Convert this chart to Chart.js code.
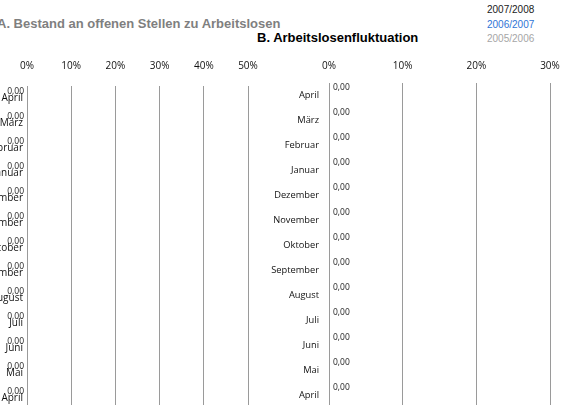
<!DOCTYPE html>
<html>
<head>
<meta charset="utf-8">
<script src="https://cdn.jsdelivr.net/npm/chart.js@4"></script>
<style>
  html, body { margin: 0; padding: 0; width: 563px; height: 405px; overflow: hidden; background: #fff; }
  .wrap { position: absolute; top: 0; height: 412px; }
  #wrapA { left: -60px; width: 318px; }
  #wrapB { left: 250px; width: 310px; }
  .title { position: absolute; font: bold 13px "Liberation Sans", Arial, sans-serif; line-height: 15px; white-space: nowrap; }
  #titleA { left: -3px; top: 16px; color: #7f7f7f; }
  #titleB { left: 257px; top: 30px; color: #000; }
  #legend { position: absolute; left: 487px; top: 3px; font: 10px "Liberation Sans", Arial, sans-serif; line-height: 14.5px; }
</style>
</head>
<body>
<div class="title" id="titleA">A. Bestand an offenen Stellen zu Arbeitslosen</div>
<div class="title" id="titleB">B. Arbeitslosenfluktuation</div>
<div id="legend"></div>
<div class="wrap" id="wrapA"><canvas id="chartA"></canvas></div>
<div class="wrap" id="wrapB"><canvas id="chartB"></canvas></div>
<script>
const months = ['April', 'März', 'Februar', 'Januar', 'Dezember', 'November', 'Oktober',
  'September', 'August', 'Juli', 'Juni', 'Mai', 'April'];
const seriesNames = ['2007/2008', '2006/2007', '2005/2006'];
const seriesColors = ['#1a1a1a', '#2f75d6', '#a6a6a6'];

// Bestand an offenen Stellen zu Arbeitslosen (Anteil)
const bestand0708 = [0, 0, 0, 0, 0, 0, 0, 0, 0, 0, 0, 0, 0];
const bestand0607 = [0, 0, 0, 0, 0, 0, 0, 0, 0, 0, 0, 0, 0];
const bestand0506 = [0, 0, 0, 0, 0, 0, 0, 0, 0, 0, 0, 0, 0];

// Arbeitslosenfluktuation (Anteil)
const fluktuation0708 = [0, 0, 0, 0, 0, 0, 0, 0, 0, 0, 0, 0, 0];
const fluktuation0607 = [0, 0, 0, 0, 0, 0, 0, 0, 0, 0, 0, 0, 0];
const fluktuation0506 = [0, 0, 0, 0, 0, 0, 0, 0, 0, 0, 0, 0, 0];

const ticksA = [0, 0.1, 0.2, 0.3, 0.4, 0.5];
const ticksB = [0, 0.1, 0.2, 0.3];

document.getElementById('legend').innerHTML = seriesNames
  .map((n, i) => `<div style="color:${seriesColors[i]}">${n}</div>`).join('');

const tickFont = { family: "'Open Sans', sans-serif", size: 10 };
const gridColor = '#9a9a9a';

// draws "0,00" next to each row, from the first series
const valueLabels = {
  id: 'valueLabels',
  afterDatasetsDraw(chart, args, opts) {
    const { ctx } = chart;
    const xs = chart.scales.x, ys = chart.scales.y;
    const data = chart.data.datasets[0].data;
    ctx.save();
    ctx.font = opts.size + "px 'Open Sans', sans-serif";
    ctx.fillStyle = '#222';
    ctx.textBaseline = 'middle';
    ctx.textAlign = opts.align;
    data.forEach((v, i) => {
      const x = xs.getPixelForValue(v) + opts.dx;
      const y = ys.getPixelForValue(i) + opts.dy;
      ctx.fillText(v.toFixed(2).replace('.', ','), x, y);
    });
    ctx.restore();
  }
};

function makeChart(id, values, ticks, max, cfg) {
  return new Chart(document.getElementById(id), {
    type: 'bar',
    data: {
      labels: months,
      datasets: seriesNames.map((n, i) => ({
        label: n,
        data: values[i],
        backgroundColor: seriesColors[i],
        borderWidth: 0
      }))
    },
    options: {
      indexAxis: 'y',
      responsive: true,
      maintainAspectRatio: false,
      animation: false,
      layout: { padding: { top: 0, bottom: cfg.bottomPad, left: 0, right: cfg.rightPad } },
      plugins: {
        legend: { display: false },
        tooltip: { enabled: false },
        valueLabels: { align: cfg.labelAlign, dx: cfg.labelDx, dy: cfg.labelDy, size: cfg.labelSize }
      },
      scales: {
        x: {
          position: 'top',
          min: 0,
          max: max,
          afterBuildTicks: s => { s.ticks = ticks.map(v => ({ value: v })); },
          afterFit: s => { s.height = cfg.plotTop; s.paddingLeft = 0; s.paddingRight = 0; },
          ticks: {
            font: tickFont,
            color: '#111',
            padding: cfg.tickPad,
            maxRotation: 0,
            callback: v => Math.round(v * 100) + '%'
          },
          grid: { color: gridColor, drawTicks: false },
          border: { display: false }
        },
        y: {
          afterFit: s => { s.width = cfg.axisWidth; s.paddingTop = 0; s.paddingBottom = 0; },
          ticks: {
            font: { family: "'Open Sans', sans-serif", size: cfg.catSize },
            color: '#111',
            padding: cfg.catPad
          },
          grid: { display: false, drawTicks: false },
          border: { display: true, color: gridColor }
        }
      }
    },
    plugins: [valueLabels]
  });
}

makeChart('chartA', [bestand0708, bestand0607, bestand0506], ticksA, 0.5, {
  plotTop: 86, tickPad: 14, axisWidth: 87, catPad: 4, catSize: 10, bottomPad: 1, rightPad: 10,
  labelAlign: 'right', labelDx: -3, labelDy: -7, labelSize: 8.5
});
makeChart('chartB', [fluktuation0708, fluktuation0607, fluktuation0506], ticksB, 0.3, {
  plotTop: 83, tickPad: 11, axisWidth: 79, catPad: 10, catSize: 9.3, bottomPad: 4, rightPad: 10,
  labelAlign: 'left', labelDx: 4, labelDy: -7.5, labelSize: 8.5
});
</script>
</body>
</html>
